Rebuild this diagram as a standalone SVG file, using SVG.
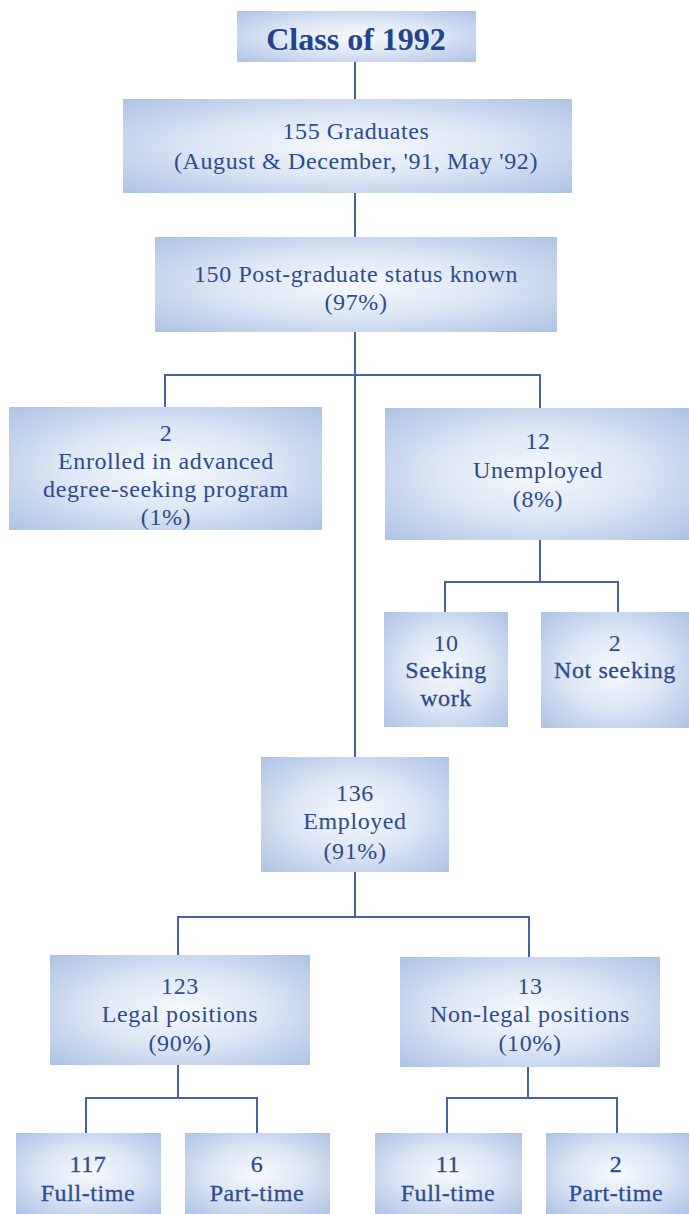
<svg xmlns="http://www.w3.org/2000/svg" width="689" height="1214" viewBox="0 0 689 1214">
<defs>
<radialGradient id="g" cx="50%" cy="50%" r="72%">
<stop offset="0" stop-color="#f6f9fd"/>
<stop offset="0.45" stop-color="#dde7f5"/>
<stop offset="1" stop-color="#abc1e4"/>
</radialGradient>
<style>
.box{fill:url(#g);}
.t{font-family:"Liberation Serif","Times New Roman",serif;font-size:24px;fill:#2d4b8f;text-anchor:middle;letter-spacing:0.6px;}
.h{stroke:#2d4b8f;stroke-width:0.3px;}
.title{font-family:"Liberation Serif","Times New Roman",serif;font-size:32px;font-weight:bold;fill:#23438c;text-anchor:middle;}
.c{stroke:#4763a6;stroke-width:2;fill:none;}
</style>
</defs>
<rect width="689" height="1214" fill="#ffffff"/>
<g id="connectors">
<path class="c" d="M355 62V99"/>
<path class="c" d="M355 193V237"/>
<path class="c" d="M355 332V757"/>
<path class="c" d="M165 407V375H540V408"/>
<path class="c" d="M540 540V582"/>
<path class="c" d="M445 612V582H618V612"/>
<path class="c" d="M355 872V917"/>
<path class="c" d="M178 955V917H529V957"/>
<path class="c" d="M178 1065V1098"/>
<path class="c" d="M86 1133V1098H257V1133"/>
<path class="c" d="M528 1067V1098"/>
<path class="c" d="M447 1133V1098H617V1133"/>
</g>
<g id="n-class">
<rect class="box" x="237" y="11" width="239" height="51"/>
<text class="title" x="356" y="50">Class of 1992</text>
</g>
<g id="n-graduates">
<rect class="box" x="123" y="99" width="449" height="94"/>
<text class="t" x="356" y="139">155 Graduates</text>
<text class="t" x="356" y="169">(August &amp; December, '91, May '92)</text>
</g>
<g id="n-known">
<rect class="box" x="155" y="237" width="402" height="95"/>
<text class="t" x="356" y="282">150 Post-graduate status known</text>
<text class="t" x="356" y="310">(97%)</text>
</g>
<g id="n-enrolled">
<rect class="box" x="9" y="407" width="313" height="123"/>
<text class="t" x="166" y="441">2</text>
<text class="t" x="166" y="469">Enrolled in advanced</text>
<text class="t" x="166" y="497">degree-seeking program</text>
<text class="t" x="166" y="525">(1%)</text>
</g>
<g id="n-unemployed">
<rect class="box" x="385" y="408" width="304" height="132"/>
<text class="t" x="538" y="449">12</text>
<text class="t" x="538" y="478">Unemployed</text>
<text class="t" x="538" y="507">(8%)</text>
</g>
<g id="n-seeking">
<rect class="box" x="384" y="612" width="124" height="115"/>
<text class="t" x="446" y="651">10</text>
<text class="t h" x="446" y="678">Seeking</text>
<text class="t h" x="446" y="706">work</text>
</g>
<g id="n-notseeking">
<rect class="box" x="541" y="612" width="148" height="116"/>
<text class="t" x="615" y="651">2</text>
<text class="t h" x="615" y="678">Not seeking</text>
</g>
<g id="n-employed">
<rect class="box" x="261" y="757" width="188" height="115"/>
<text class="t" x="355" y="801">136</text>
<text class="t" x="355" y="829">Employed</text>
<text class="t" x="355" y="859">(91%)</text>
</g>
<g id="n-legal">
<rect class="box" x="50" y="955" width="260" height="110"/>
<text class="t" x="180" y="994">123</text>
<text class="t" x="180" y="1022">Legal positions</text>
<text class="t" x="180" y="1051">(90%)</text>
</g>
<g id="n-nonlegal">
<rect class="box" x="400" y="957" width="260" height="110"/>
<text class="t" x="530" y="994">13</text>
<text class="t" x="530" y="1022">Non-legal positions</text>
<text class="t" x="530" y="1051">(10%)</text>
</g>
<g id="n-legal-ft">
<rect class="box" x="16" y="1133" width="145" height="81"/>
<text class="t h" x="88" y="1172">117</text>
<text class="t h" x="88" y="1201">Full-time</text>
</g>
<g id="n-legal-pt">
<rect class="box" x="185" y="1133" width="145" height="81"/>
<text class="t h" x="257" y="1172">6</text>
<text class="t h" x="257" y="1201">Part-time</text>
</g>
<g id="n-nonlegal-ft">
<rect class="box" x="375" y="1133" width="147" height="81"/>
<text class="t h" x="448" y="1172">11</text>
<text class="t h" x="448" y="1201">Full-time</text>
</g>
<g id="n-nonlegal-pt">
<rect class="box" x="546" y="1133" width="143" height="81"/>
<text class="t h" x="616" y="1172">2</text>
<text class="t h" x="616" y="1201">Part-time</text>
</g>
</svg>
